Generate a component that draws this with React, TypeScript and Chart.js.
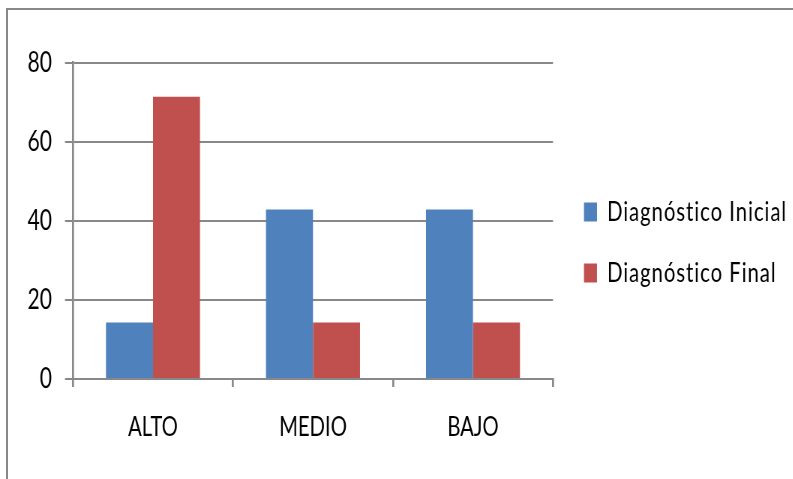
import { useEffect, useRef } from 'react';
import { Chart, registerables } from 'chart.js';
Chart.register(...registerables);

const categories = ['ALTO', 'MEDIO', 'BAJO'];
const seriesNames = ['Diagnóstico Inicial', 'Diagnóstico Final'];
const inicialValues = [14.3, 42.9, 42.9];
const finalValues = [71.4, 14.3, 14.3];
const yMin = 0;
const yMax = 80;
const yStep = 20;

const S = 0.75; // horizontal squish of the whole picture
const W = 793;
const H = 479;
const WU = W / S;
const FONT = 'Lato';
const FS_Y = 28;
const FS_X = 27;
const FS_L = 27;
const LS = 1.3; // legend letter spacing (px, unscaled)
const LEG_PAD = 61 - FS_L;
const plotLeftU = 73 / S;
const plotRightU = 553 / S;
const boxLeftU = 584 / S;
const GRID = '#888888';

const withSpacing = (chart: any, fn: () => any) => {
  const c: any = chart.ctx;
  c.save();
  c.letterSpacing = LS + 'px';
  try {
    return fn();
  } finally {
    c.restore();
  }
};

const legendSpacing = {
  id: 'legendSpacing',
  beforeLayout(chart: any) {
    const lg: any = chart.legend;
    if (lg && !lg.__wrapped) {
      const origFit = lg.fit.bind(lg);
      const origDraw = lg.draw.bind(lg);
      lg.fit = (...args: any[]) => withSpacing(chart, () => origFit(...args));
      lg.draw = (...args: any[]) => withSpacing(chart, () => origDraw(...args));
      lg.__wrapped = true;
    }
  },
};

export default function App() {
  const ref = useRef<HTMLCanvasElement>(null);
  useEffect(() => {
    const mctx: any = document.createElement('canvas').getContext('2d')!;
    mctx.font = `${FS_L}px ${FONT}`;
    mctx.letterSpacing = LS + 'px';
    const textW = Math.max(...seriesNames.map((n) => mctx.measureText(n).width));
    const boxW = 13 / S;
    const natural = LEG_PAD + boxW + FS_L / 2 + textW + 10;
    const desired = WU - (boxLeftU - LEG_PAD);
    const rightPad = Math.max(0, desired - natural);
    const T = 17.6;
    const B = 11.6;

    const chart = new Chart(ref.current!, {
      type: 'bar',
      data: {
        labels: categories,
        datasets: [
          { label: seriesNames[0], data: inicialValues, backgroundColor: '#4F81BD', categoryPercentage: 0.5875, barPercentage: 1 },
          { label: seriesNames[1], data: finalValues, backgroundColor: '#C0504D', categoryPercentage: 0.5875, barPercentage: 1 },
        ],
      },
      plugins: [legendSpacing],
      options: {
        animation: false,
        responsive: true,
        maintainAspectRatio: false,
        layout: { padding: { top: T, bottom: B, left: 0, right: rightPad } },
        plugins: {
          title: { display: true, text: ' ', font: { size: 1, lineHeight: 1 }, padding: { top: 62.7 - T - 1, bottom: 0 } },
          tooltip: { enabled: false },
          legend: {
            position: 'right',
            maxWidth: desired,
            labels: {
              boxWidth: boxW,
              boxHeight: 19,
              padding: LEG_PAD,
              color: '#000',
              font: { family: FONT, size: FS_L },
            },
          },
        },
        scales: {
          x: {
            grid: { display: true, drawOnChartArea: false, drawTicks: true, tickLength: 8, color: GRID, lineWidth: 2 / S },
            border: { display: true, color: GRID, width: 2 },
            ticks: { color: '#000', font: { family: FONT, size: FS_X }, padding: 24, maxRotation: 0 },
          },
          y: {
            min: yMin,
            max: yMax,
            grid: { color: GRID, lineWidth: 2, tickLength: 8 / S, drawTicks: true },
            border: { display: true, color: GRID, width: 2 / S },
            ticks: { stepSize: yStep, color: '#000', font: { family: FONT, size: FS_Y }, padding: 13 / S },
            afterFit: (scale: any) => { scale.width = plotLeftU; },
          },
          yR: {
            position: 'right',
            display: true,
            grid: { display: false },
            border: { display: false },
            ticks: { display: false },
            afterFit: (scale: any) => { scale.width = boxLeftU - LEG_PAD - plotRightU; },
          },
        },
      },
    });
    return () => chart.destroy();
  }, []);

  return (
    <div style={{ position: 'fixed', left: 0, top: 0, width: W, height: H, overflow: 'hidden', background: '#fff' }}>
      <div style={{ position: 'absolute', left: 0, top: 0, width: WU, height: H, transform: `scaleX(${S})`, transformOrigin: '0 0' }}>
        <canvas ref={ref} />
      </div>
      <div style={{ position: 'absolute', left: 6, top: 8, width: W, height: H, borderLeft: '2px solid #888', borderTop: '2px solid #888', pointerEvents: 'none' }} />
    </div>
  );
}
